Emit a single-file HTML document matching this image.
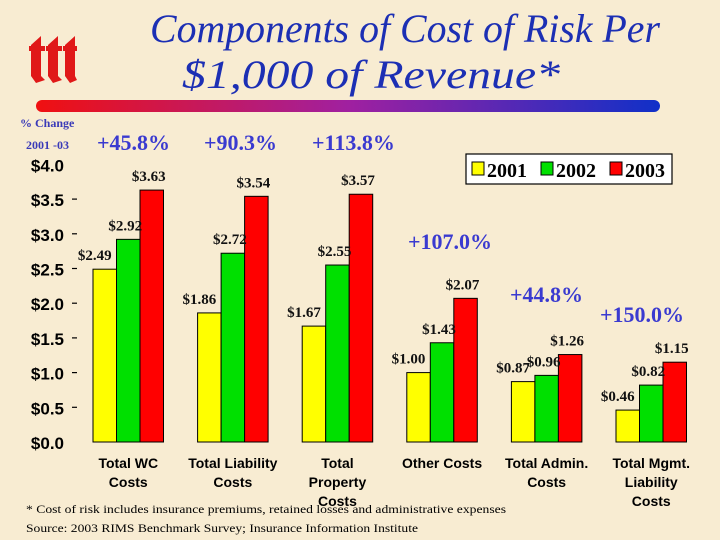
<!DOCTYPE html>
<html><head><meta charset="utf-8"><style>
body{margin:0;background:#f8ecd2;}
svg{display:block;font-family:"Liberation Serif",serif;}
</style></head><body>
<svg width="720" height="540" viewBox="0 0 720 540">
<defs>
<linearGradient id="bar" x1="0" x2="1"><stop offset="0" stop-color="#f01010"/><stop offset="0.5" stop-color="#a020a0"/><stop offset="1" stop-color="#1030c8"/></linearGradient>
</defs>
<rect width="720" height="540" fill="#f8ecd2"/>
<g fill="#e01818">
<path d="M31 45 L41 36 L41 46 L45 46 L45 51 L41 51 L41 76 L45 80 L36 83 L31 76 L31 51 L29 51 L29 46 L31 46 Z"/>
<path d="M48 45 L58 36 L58 46 L62 46 L62 51 L58 51 L58 76 L62 80 L53 83 L48 76 L48 51 L46 51 L46 46 L48 46 Z"/>
<path d="M65 45 L75 36 L75 46 L77 46 L77 51 L75 51 L75 76 L77 80 L70 83 L65 76 L65 51 L63 51 L63 46 L65 46 Z"/>
</g>
<text x="150" y="42" font-size="40" font-style="italic" fill="#1c2fb4" textLength="510" lengthAdjust="spacingAndGlyphs">Components of Cost of Risk Per</text>
<text x="182" y="88" font-size="40" font-style="italic" fill="#1c2fb4" textLength="378" lengthAdjust="spacingAndGlyphs">$1,000 of Revenue*</text>
<rect x="36" y="100" width="624" height="12" rx="6" fill="url(#bar)"/>
<text x="20" y="127" font-size="12" font-weight="bold" fill="#3a3ab8">% Change</text>
<text x="26" y="149" font-size="12" font-weight="bold" fill="#3a3ab8">2001 -03</text>
<g id="pct" font-size="22" font-weight="bold" fill="#3a3ad0"></g>
<g id="axis" font-family="Liberation Sans, sans-serif" font-size="17" font-weight="bold" fill="#000"></g>
<g id="bars"></g>
<g id="labels" font-size="15" font-weight="bold" fill="#111"></g>
<g id="cats" font-family="Liberation Sans, sans-serif" font-size="14" font-weight="bold" fill="#000" text-anchor="middle"></g>
<g>
<rect x="466" y="154" width="206" height="30" fill="#fff" stroke="#000" stroke-width="1.2"/>
<rect x="472" y="162" width="12" height="13" fill="#ffff00" stroke="#000"/>
<text x="487" y="177" font-size="20" font-weight="bold">2001</text>
<rect x="541" y="162" width="12" height="13" fill="#00e000" stroke="#000"/>
<text x="556" y="177" font-size="20" font-weight="bold">2002</text>
<rect x="610" y="162" width="12" height="13" fill="#ff0000" stroke="#000"/>
<text x="625" y="177" font-size="20" font-weight="bold">2003</text>
</g>
<text x="26" y="513" font-size="12" fill="#000" textLength="480" lengthAdjust="spacingAndGlyphs">* Cost of risk includes insurance premiums, retained losses and administrative expenses</text>
<text x="26" y="532" font-size="12" fill="#000" textLength="392" lengthAdjust="spacingAndGlyphs">Source: 2003 RIMS Benchmark Survey; Insurance Information Institute</text>
</svg>
<script>
const categories=[["Total WC","Costs"],["Total Liability","Costs"],["Total","Property","Costs"],["Other Costs"],["Total Admin.","Costs"],["Total Mgmt.","Liability","Costs"]];
const v2001=[2.49,1.86,1.67,1.00,0.87,0.46];
const v2002=[2.92,2.72,2.55,1.43,0.96,0.82];
const v2003=[3.63,3.54,3.57,2.07,1.26,1.15];
const pctChange=["+45.8%","+90.3%","+113.8%","+107.0%","+44.8%","+150.0%"];
const yTicks=[0,0.5,1,1.5,2,2.5,3,3.5,4];
const yTickLabels=["$0.0","$0.5","$1.0","$1.5","$2.0","$2.5","$3.0","$3.5","$4.0"];
const NS="http://www.w3.org/2000/svg";
const y0=442,pxPer=69.4;
const y=v=>y0-v*pxPer;
const gx=i=>93+i*104.6;
const bw=23.5;
function mk(tag,attrs,parent,txt){const e=document.createElementNS(NS,tag);for(const k in attrs)e.setAttribute(k,attrs[k]);if(txt!==undefined)e.textContent=txt;parent.appendChild(e);return e;}
const axis=document.getElementById('axis');
yTicks.forEach((t,i)=>{
 const l=mk('text',{x:64,y:y(t)+7,'text-anchor':'end'},axis,yTickLabels[i]);
 
 
 if(t>0&&t<4){const m=mk('line',{x1:72,x2:77,y1:y(t),y2:y(t),stroke:'#000','stroke-width':1.2},axis);
 
 }
});
const bars=document.getElementById('bars'),labels=document.getElementById('labels'),cats=document.getElementById('cats');
const series=[[v2001,'#ffff00','2001'],[v2002,'#00e000','2002'],[v2003,'#ff0000','2003']];
categories.forEach((c,i)=>{
 series.forEach((s,j)=>{
  const v=s[0][i],x=gx(i)+j*bw;
  const r=mk('rect',{x:x,y:y(v),width:bw,height:y0-y(v),fill:s[1],stroke:'#000','stroke-width':1},bars);
  
  
  const cx=x+bw/2-(j===0?10:3);
  const t=mk('text',{x:cx,y:y(v)-9,'text-anchor':'middle'},labels,'$'+v.toFixed(2));
  
  
 });
 c.forEach((ln,k)=>{
  const t=mk('text',{x:gx(i)+bw*1.5,y:468+k*19},cats,ln);
  
  
 });
});
const pct=document.getElementById('pct');
const pctPos=[[97,150],[204,150],[312,150],[408,249],[510,302],[600,322]];
pctChange.forEach((p,i)=>{
 const t=mk('text',{x:pctPos[i][0],y:pctPos[i][1]},pct,p);
 
 
});
</script>
</body></html>
